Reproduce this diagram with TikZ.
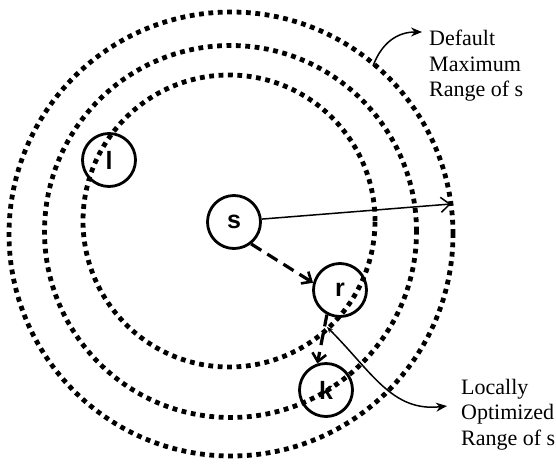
\documentclass[tikz,border=0pt]{standalone}
\usepackage{fontspec}
\setmainfont{Liberation Serif}
\newfontfamily\labelfont{Liberation Serif}
\newfontfamily\nodefont{Liberation Sans}
\usetikzlibrary{arrows.meta}
\begin{document}
\begin{tikzpicture}[x=1pt,y=-1pt,
  dotring/.style={line width=4.8pt,dash pattern=on 4.8pt off 4.6pt},
  station/.style={circle,draw,line width=2.8pt,minimum size=53pt,inner sep=0pt,font=\nodefont\bfseries\fontsize{25}{25}\selectfont},
  solidarrow/.style={line width=1.5pt,-{Straight Barb[length=9pt,width=15pt,line width=1.5pt]}},
  dasharrow/.style={line width=3.2pt,dash pattern=on 12pt off 7pt,-{Straight Barb[length=8pt,width=14pt,line width=2.6pt]}},
  callout/.style={line width=1.5pt,-{Stealth[length=11pt,width=9pt]}},
  rangelabel/.style={font=\labelfont\fontsize{22}{25.5}\selectfont,align=left,inner sep=0pt,anchor=north west}]
\useasboundingbox (0,0) rectangle (556,463);
% range circles
\draw[dotring] (231,234) circle[radius=222pt];
\draw[dotring] (230.5,231.5) circle[radius=186pt];
\draw[dotring] (229,221) circle[radius=146pt];
% nodes
\node[station] (s) at (234,222) {s};
\node[station] (l) at (109,160) {l};
\node[station] (r) at (340,290) {r};
\node[station] (k) at (326,390) {k};
% connectors
\coordinate (rangeend) at (451,204);
\draw[solidarrow] (s.6) -- (rangeend);
\draw[dasharrow] (s.308) -- (r.165);
\draw[dasharrow] (r.242) -- (k.108);
% labels
\node[rangelabel] (deflab) at (429,30) {Default\\Maximum\\Range of s};
\node[rangelabel] (loclab) at (461,379) {Locally\\Optimized\\Range of s};
\coordinate (defstart) at (373,66);
\coordinate (defend) at (422,32);
\coordinate (locstart) at (327,327);
\coordinate (locend) at (447,406);
\draw[callout] (defstart) .. controls (382,42) and (398,32) .. (defend);
\draw[callout,{Stealth[length=6pt,width=5pt]}-{Stealth[length=11pt,width=9pt]}] (locstart) .. controls (372,372) and (392,412) .. (locend);
\end{tikzpicture}
\end{document}
